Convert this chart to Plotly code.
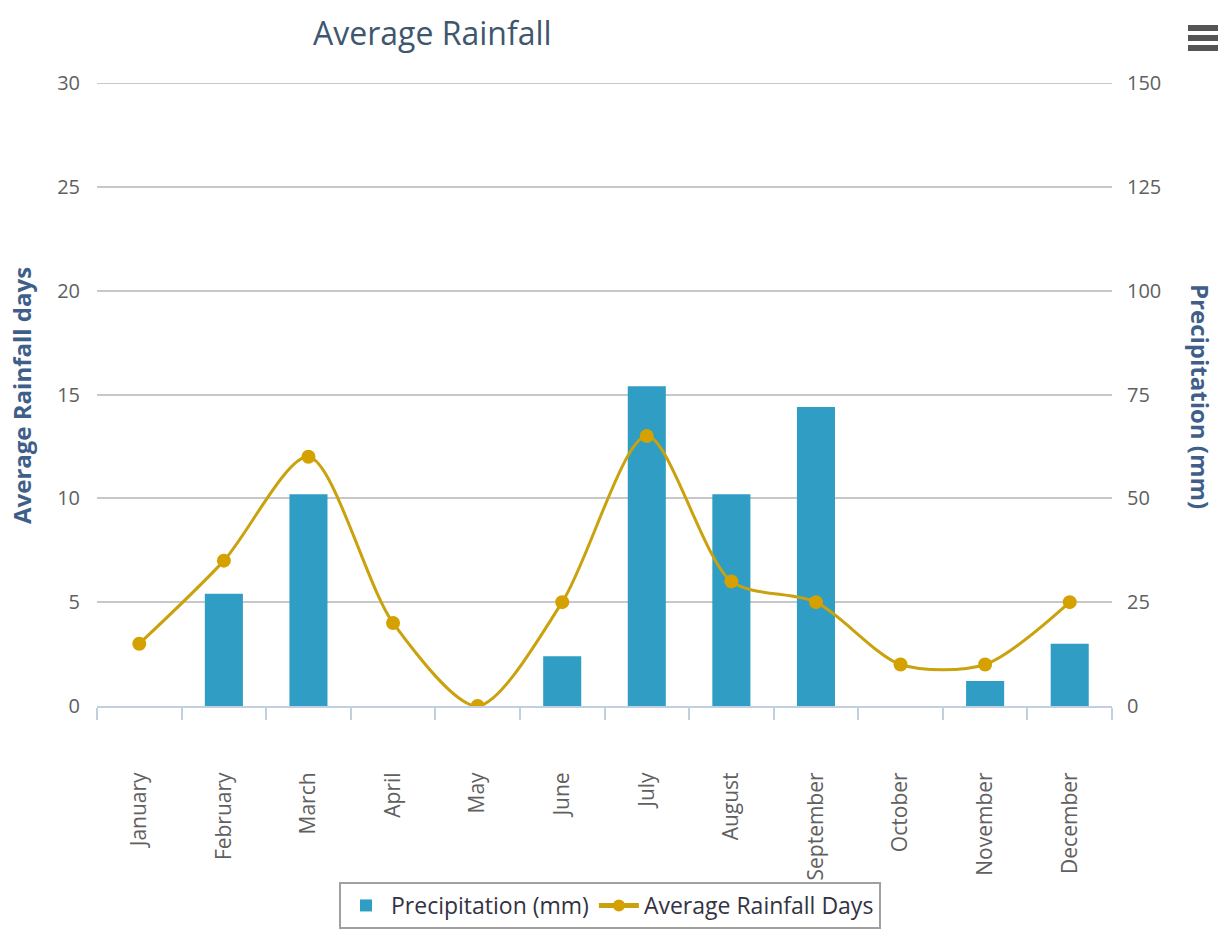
import plotly.graph_objects as go

months = ["January", "February", "March", "April", "May", "June",
          "July", "August", "September", "October", "November", "December"]
precipitation_mm = [0, 27, 51, 0, 0, 12, 77, 51, 72, 0, 6, 15]
rainfall_days = [3, 7, 12, 4, 0, 5, 13, 6, 5, 2, 2, 5]

W, H = 1232, 943
L, R, T, B = 97, 1112, 83, 706

def px(x):
    return (x - L) / (R - L)

def py(y):
    return (B - y) / (B - T)

FONT = "Open Sans"
fig = go.Figure()
fig.add_trace(go.Bar(
    x=months, y=precipitation_mm, name="Precipitation (mm)",
    marker=dict(color="#2F9DC4", line=dict(width=0)),
    yaxis="y",
))
fig.add_trace(go.Scatter(
    x=months, y=rainfall_days, name="Average Rainfall Days",
    mode="lines+markers",
    line=dict(color="#C9A20E", width=3, shape="spline", smoothing=0.8),
    marker=dict(color="#D4A100", size=14),
    yaxis="y2",
))

fig.update_layout(
    width=W, height=H,
    margin=dict(l=L, r=W - R, t=T, b=H - B),
    plot_bgcolor="white", paper_bgcolor="white",
    bargap=0.55,
    showlegend=True,
    legend=dict(
        orientation="h", x=px(610), xanchor="center", y=py(882), yanchor="top",
        bgcolor="rgba(255,255,255,0.85)", bordercolor="#A0A0A0", borderwidth=2,
        font=dict(family=FONT, size=23, color="#333344"),
        itemwidth=40, itemsizing="constant", traceorder="normal",
    ),
    xaxis=dict(
        type="category", range=[-0.5, 11.5], tickangle=-90, tickson="boundaries",
        ticks="outside", ticklen=12, tickcolor="#C0D0E0", tickwidth=2,
        showline=True, linecolor="#C0D0E0", linewidth=2,
        showgrid=False,
        tickfont=dict(family=FONT, size=21, color="#606060"),
        ticklabelstandoff=56,
    ),
    yaxis=dict(
        range=[0, 150], dtick=25, side="right",
        showgrid=True, gridcolor="#C8C8C8", gridwidth=2,
        zeroline=False, ticks="",
        tickfont=dict(family=FONT, size=20, color="#606060"),
        ticklabelstandoff=14,
    ),
    yaxis2=dict(
        range=[0, 30], dtick=5, side="left", overlaying="y",
        showgrid=False, zeroline=False, ticks="",
        tickfont=dict(family=FONT, size=20, color="#606060"),
        ticklabelstandoff=16,
    ),
    annotations=[
        dict(text="Average Rainfall", xref="paper", yref="paper",
             x=px(432), y=py(33), xanchor="center", yanchor="middle",
             showarrow=False, font=dict(family=FONT, size=32, color="#3E576F")),
        dict(text="<b>Average Rainfall days</b>", xref="paper", yref="paper",
             x=px(22), y=py(396), xanchor="center", yanchor="middle",
             textangle=-90, showarrow=False,
             font=dict(family=FONT, size=24, color="#3F5F8A")),
        dict(text="<b>Precipitation (mm)</b>", xref="paper", yref="paper",
             x=px(1200), y=py(396), xanchor="center", yanchor="middle",
             textangle=90, showarrow=False,
             font=dict(family=FONT, size=24, color="#3F5F8A")),
    ],
    shapes=[
        dict(type="line", xref="paper", yref="y", x0=0, x1=1, y0=150, y1=150,
             line=dict(color="#C8C8C8", width=2), layer="below"),
    ] + [
        dict(type="rect", xref="paper", yref="paper",
             x0=px(1188), x1=px(1218), y0=py(y0), y1=py(y0 + 6),
             fillcolor="#555555", line=dict(width=0))
        for y0 in (25, 35, 45)
    ],
)

fig.write_html("out.html")
